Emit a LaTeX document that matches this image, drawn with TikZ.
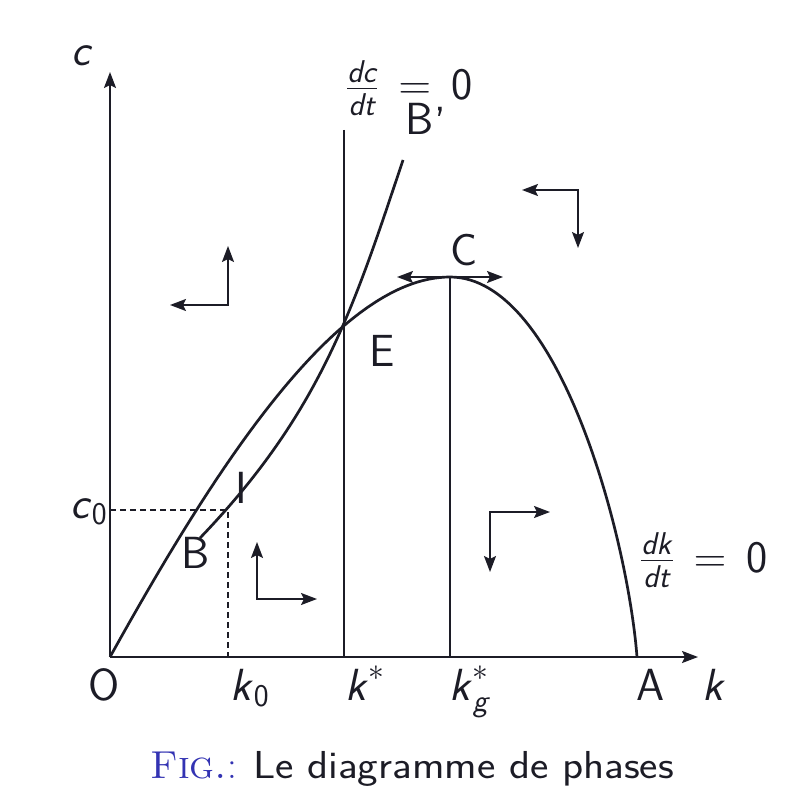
\RequirePackage{fix-cm}
\documentclass[tikz,border=0pt]{standalone}
\usepackage{amsmath}
\usepackage{fontspec}
\usetikzlibrary{arrows.meta}
\definecolor{capblue}{RGB}{51,51,179}
\definecolor{ink}{RGB}{28,28,38}
\newcommand{\sv}[1]{\textsf{\textit{#1}}}
\begin{document}
\begin{tikzpicture}[x=1pt,y=-1pt,
  lbl/.style={font=\fontsize{45}{50}\selectfont\sffamily, text=ink, inner sep=0pt, anchor=base},
  capt/.style={font=\fontsize{39}{44}\selectfont\sffamily, text=ink, inner sep=0pt, anchor=base west},
  axisl/.style={draw=ink, line width=2pt, -{Stealth[length=16pt,width=12pt,inset=3pt]}},
  thinl/.style={draw=ink, line width=1.8pt},
  curvel/.style={draw=ink, line width=2.7pt},
  dashl/.style={draw=ink, line width=1.6pt, dash pattern=on 6pt off 4pt},
  phase/.style={draw=ink, line width=1.8pt, {Stealth[length=16pt,width=12pt,inset=3pt]}-{Stealth[length=16pt,width=12pt,inset=3pt]}}
]
\useasboundingbox[fill=white] (0,0) rectangle (790,802);

% key points
\coordinate (O) at (110,657);
\coordinate (Xend) at (698,657);
\coordinate (Yend) at (110,72);
\coordinate (Cpk) at (450,277);
\coordinate (A) at (637,657);
\coordinate (Bst) at (200,538);
\coordinate (Btop) at (403,160);
\coordinate (kstarTop) at (344,130);
\coordinate (kstarBot) at (344,657);
\coordinate (kgBot) at (450,657);
\coordinate (c0L) at (110,510);
\coordinate (I0) at (228,510);
\coordinate (k0B) at (228,657);

% axes
\draw[axisl] (O) -- (Xend);
\draw[axisl] (O) -- (Yend);

% vertical lines
\draw[thinl] (kstarTop) -- (kstarBot);
\draw[thinl] (Cpk) -- (kgBot);

% dashed
\draw[dashl] (c0L) -- (I0) -- (k0B);

% dk/dt = 0 curve
\draw[curvel] (O) .. controls (210,477) and (335,277) .. (Cpk)
                  .. controls (560,277) and (628,540) .. (A);

% stable arm
\draw[curvel] (Bst) .. controls (320,413) and (353,310) .. (Btop);

% arrows at C
\coordinate (CL) at (397,277);
\coordinate (CR) at (503,277);
\draw[phase] (CL) -- (CR);

% phase arrows
\coordinate (p1) at (228,305);
\draw[phase] (170,305) -- (p1) -- (228,246);
\coordinate (p2) at (578,190);
\draw[phase] (522,190) -- (p2) -- (578,248);
\coordinate (p3) at (257,599);
\draw[phase] (257,542) -- (p3) -- (317,599);
\coordinate (p4) at (490,512);
\draw[phase] (550,512) -- (p4) -- (490,572);

% labels
\node[lbl] (lc) at (82,66) {\sv{c}};
\node[lbl, anchor=base west] (ldc) at (346,100) {$\frac{\sv{dc}}{\sv{dt}}\,=\,\textsf{0}$};
\node[lbl, anchor=base west] (lBp) at (405,135) {B\kern1pt\raisebox{-4pt}{'}};
\node[lbl] (lE) at (382,366) {E};
\node[lbl] (lC) at (464,265) {C};
\node[lbl] (lB) at (196,568) {B};
\node[lbl] (lI) at (241,503) {I};
\node[lbl] (lO) at (104,700) {O};
\node[lbl] (lk0) at (250,700) {$\sv{k}_{\textsf{0}}$};
\node[lbl] (lks) at (365,700) {$\sv{k}^{\ast}$};
\node[lbl] (lkg) at (470,700) {$\sv{k}^{\ast}_{\sv{g}}$};
\node[lbl] (lA) at (651,700) {A};
\node[lbl] (lk) at (714,700) {\sv{k}};
\node[lbl] (lc0) at (89,518) {$\sv{c}_{\textsf{0}}$};
\node[lbl, anchor=base west] (ldk) at (640,572) {$\frac{\sv{dk}}{\sv{dt}}\,=\,\textsf{0}$};

% caption
\node[capt] (cap) at (150,778) {{\rmfamily\color{capblue}\textsc{Fig.}:} \scalebox{1.12}[1]{Le diagramme de phases}};
\end{tikzpicture}
\end{document}
